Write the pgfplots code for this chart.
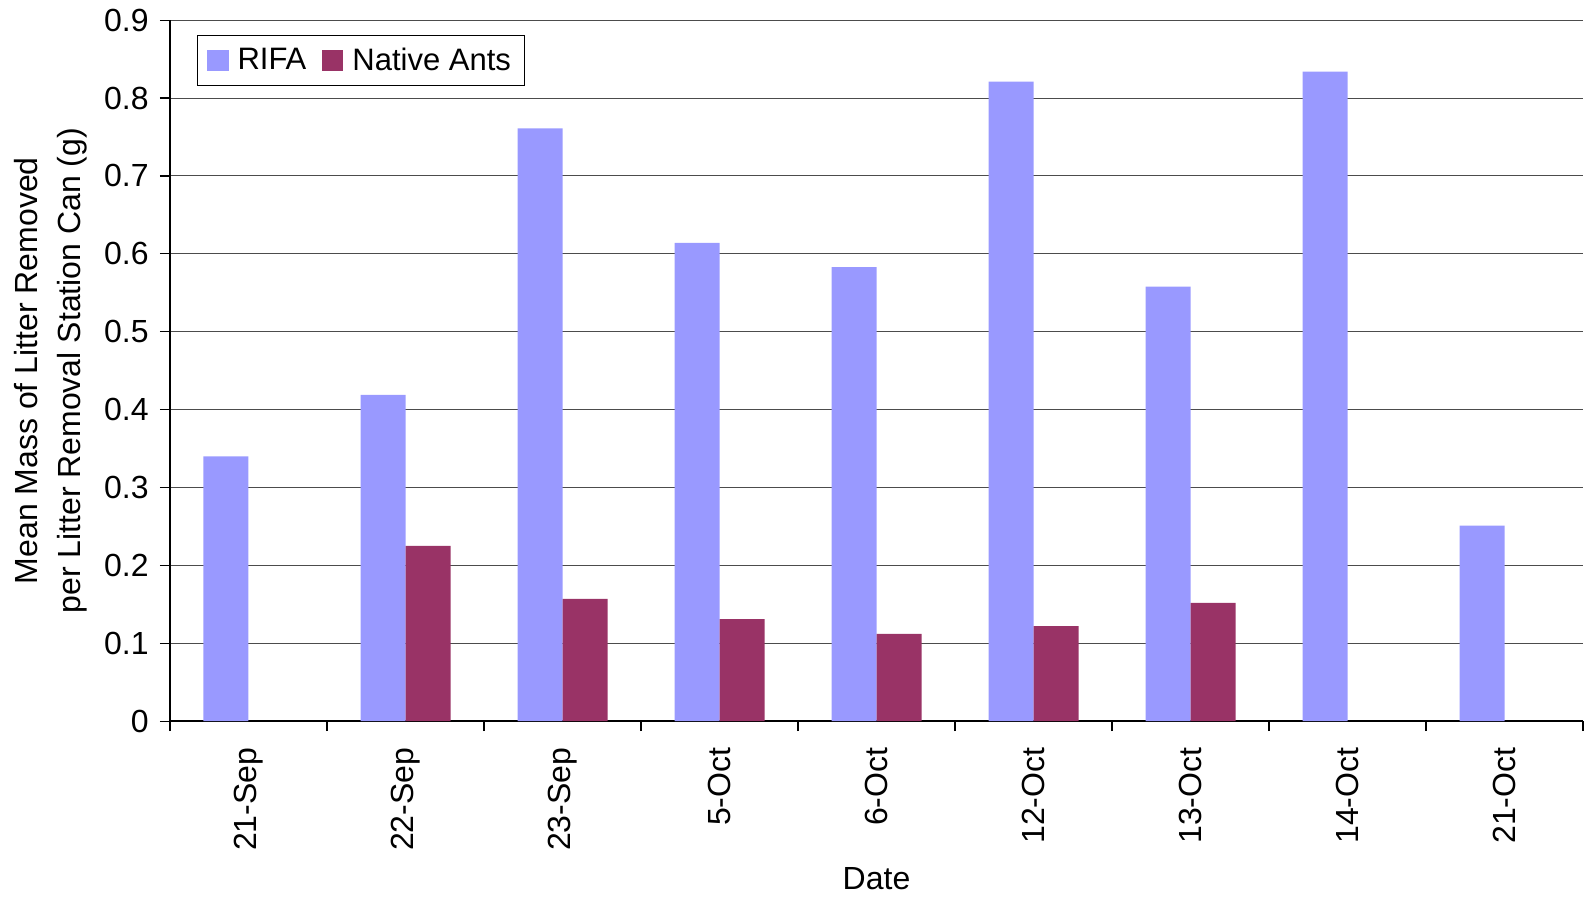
\documentclass[border=0pt]{standalone}
\usepackage{pgfplots}
\pgfplotsset{compat=1.18}
\usepackage{fontspec}
\setmainfont{Liberation Sans}

\definecolor{rifa}{HTML}{9999FF}
\definecolor{native}{HTML}{993366}

\pgfplotsset{
  squarelegend/.style={legend image code/.code={%
    \fill[##1] (0pt,-5.25pt) rectangle (10.5pt,5.25pt);}},
}

\begin{document}
\begin{tikzpicture}
\begin{axis}[
  scale only axis,
  width=706.5pt, height=350.5pt,
  font=\fontsize{16}{19}\selectfont,
  xmin=-0.5, xmax=8.5,
  ymin=0, ymax=0.9,
  ytick={0,0.1,0.2,0.3,0.4,0.5,0.6,0.7,0.8,0.9},
  xtick={-0.5,0.5,1.5,2.5,3.5,4.5,5.5,6.5,7.5,8.5},
  xticklabels={21-Sep,22-Sep,23-Sep,5-Oct,6-Oct,12-Oct,13-Oct,14-Oct,21-Oct},
  x tick label as interval,
  /pgf/number format/assume math mode=true,
  axis x line*=bottom, axis y line*=left,
  axis line style={-, black, line width=0.8pt},
  tick align=outside,
  major tick length=5pt,
  tick style={black, line width=0.6pt},
  ymajorgrids,
  grid style={black!70, line width=0.5pt},
  xticklabel style={rotate=90, anchor=east, inner sep=0pt},
  yticklabel style={anchor=east, inner sep=0pt},
  xticklabel shift=8pt,
  yticklabel shift=5.5pt,
  xlabel={Date},
  xlabel style={at={(axis description cs:0.5,0)}, anchor=center, yshift=-78.5pt},
  ylabel={Mean Mass of Litter Removed\\per Litter Removal Station Can (g)},
  ylabel style={at={(axis description cs:0,0.5)}, anchor=center, yshift=59.5pt,
    align=center, font=\fontsize{16}{21.3}\selectfont},
  legend columns=2,
  legend style={at={(axis description cs:0,1)}, anchor=north west,
    xshift=13.5pt, yshift=-7.5pt, draw=black, line width=0.5pt,
    font=\fontsize{15.5}{18}\selectfont,
    inner xsep=5pt, inner ysep=4pt,
    /tikz/every odd column/.append style={column sep=2.5pt},
    /tikz/every even column/.append style={column sep=6pt}},
  ybar, bar width=22.5pt,
]
\addplot[fill=rifa, draw=none, bar shift=-11.25pt, squarelegend] coordinates {
  (0,0.340) (1,0.419) (2,0.761) (3,0.614) (4,0.583)
  (5,0.821) (6,0.558) (7,0.834) (8,0.251)};
\addlegendentry{RIFA}
\addplot[fill=native, draw=none, bar shift=11.25pt, squarelegend] coordinates {
  (1,0.225) (2,0.157) (3,0.131) (4,0.112) (5,0.122) (6,0.152)};
\addlegendentry{Native Ants}
\end{axis}
\pgfresetboundingbox
\path ([shift={(-85pt,-88pt)}]current axis.south west)
  rectangle ([shift={(1pt,10.1pt)}]current axis.north east);
\end{tikzpicture}
\end{document}
